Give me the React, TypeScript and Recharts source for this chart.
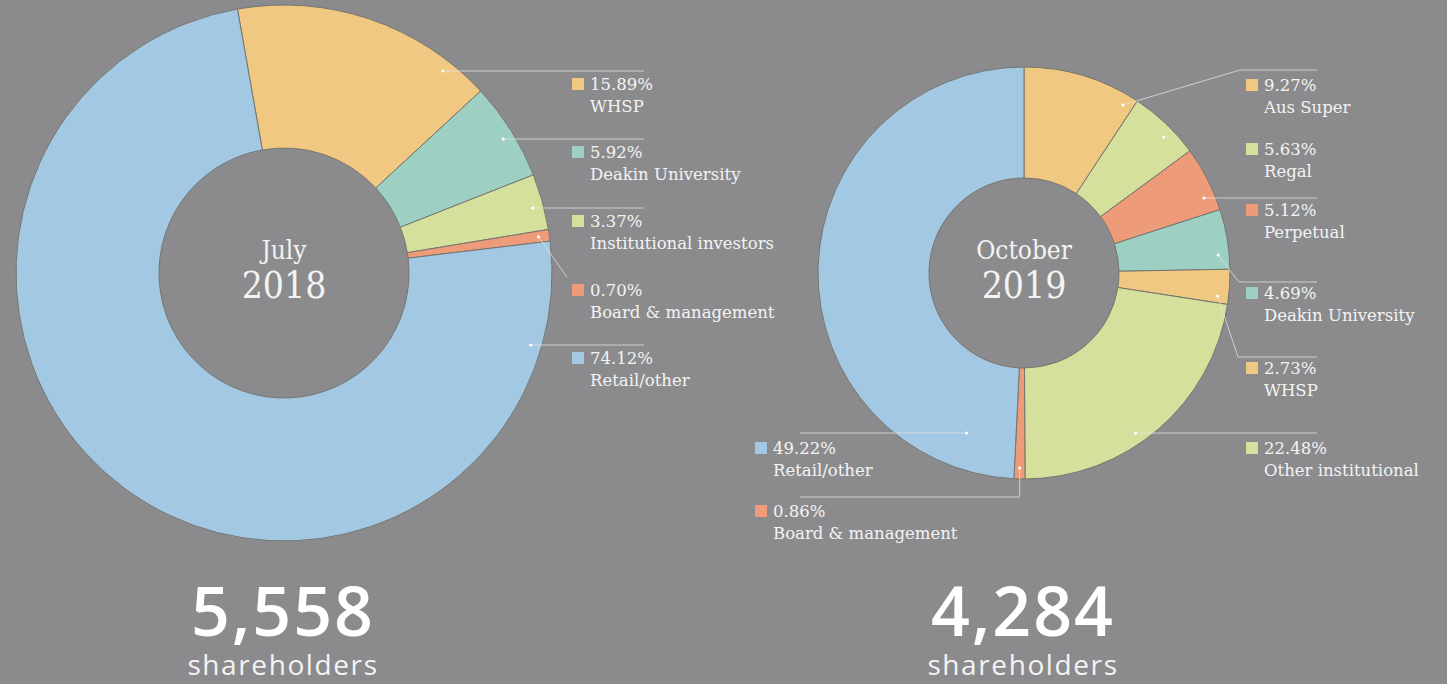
import { PieChart, Pie, Cell } from "recharts";

const julyNames = ["WHSP", "Deakin University", "Institutional investors", "Board & management", "Retail/other"];
const julyShares = [15.89, 5.92, 3.37, 0.7, 74.12];

const octNames = [
  "Aus Super",
  "Regal",
  "Perpetual",
  "Deakin University",
  "WHSP",
  "Other institutional",
  "Board & management",
  "Retail/other",
];
const octShares = [9.27, 5.63, 5.12, 4.69, 2.73, 22.48, 0.86, 49.22];

const totals = ["5,558", "4,284"];
const periods = [
  ["July", "2018"],
  ["October", "2019"],
];

const BG = "#8b8b8d";
const BLUE = "#a2c8e3";
const GOLD = "#f1c881";
const TEAL = "#9ecfc3";
const LIME = "#d5e09d";
const SALMON = "#ee9b79";
const INK = "#f3f3f3";
const SERIF = "'DejaVu Serif', serif";
const SERIF_C = "'DejaVu Serif Condensed', 'DejaVu Serif', serif";
const SANS = "'Open Sans', Lato, sans-serif";

const julyColors = [GOLD, TEAL, LIME, SALMON, BLUE];
const octColors = [GOLD, LIME, SALMON, TEAL, GOLD, LIME, SALMON, BLUE];

type Pt = [number | null, number];
type LabelLayout = {
  top: number;
  sqX: number;
  dotY?: number; // omitted -> dot sits on the slice's mid angle
  inset?: number;
  path?: Pt[];
};

// annotation layout (label blocks + leader lines)
const julyLayout: LabelLayout[] = [
  { top: 78, sqX: 572, dotY: 71, path: [[644, 71]] },
  { top: 146, sqX: 572, dotY: 139, path: [[644, 139]] },
  { top: 215, sqX: 572, dotY: 208, path: [[644, 208]] },
  { top: 284, sqX: 572, path: [[567, 277]] },
  { top: 352, sqX: 572, dotY: 345, path: [[644, 345]] },
];

const octLayout: LabelLayout[] = [
  { top: 79, sqX: 1246, dotY: 105, path: [[1240, 70], [1317, 70]] },
  { top: 143, sqX: 1246, dotY: 137 },
  { top: 204, sqX: 1246, dotY: 198, path: [[1317, 198]] },
  { top: 287, sqX: 1246, dotY: 255, path: [[1239, 282], [1317, 282]] },
  { top: 362, sqX: 1246, dotY: 296, path: [[1238, 357], [1317, 357]] },
  { top: 442, sqX: 1246, dotY: 433, path: [[1317, 433]] },
  { top: 505, sqX: 755, path: [[null, 497], [800, 497]] },
  { top: 442, sqX: 755, dotY: 433, inset: 25, path: [[800, 433]] },
];

const RAD = Math.PI / 180;

function makeLabel(names: string[], shares: number[], colors: string[], layout: LabelLayout[]) {
  return (props: any) => {
    const { cx, cy, midAngle, outerRadius, index } = props;
    const l = layout[index];
    const r = outerRadius - 11 - (l.inset ?? 0);
    const side = l.sqX > cx ? 1 : -1;
    let dx: number;
    let dy: number;
    if (l.dotY !== undefined) {
      dy = l.dotY;
      dx = cx + side * Math.sqrt(Math.max(0, r * r - (l.dotY - cy) * (l.dotY - cy)));
    } else {
      dx = cx + r * Math.cos(-midAngle * RAD);
      dy = cy + r * Math.sin(-midAngle * RAD);
    }
    const pts = [[dx, dy], ...(l.path ?? []).map(([x, y]) => [x ?? dx, y])];
    const tx = l.sqX + 18;
    return (
      <g key={`lbl-${index}`}>
        {l.path && (
          <polyline
            points={pts.map((p) => p.join(",")).join(" ")}
            fill="none"
            stroke="#e4e4e4"
            strokeOpacity={0.75}
            strokeWidth={1}
          />
        )}
        <circle cx={dx} cy={dy} r={1.6} fill="#ffffff" />
        <rect x={l.sqX} y={l.top} width={12} height={12} fill={colors[index]} />
        <text x={tx} y={l.top + 12} fill={INK} fontFamily={SERIF} fontSize={16.5} fontWeight={300}>
          {shares[index].toFixed(2)}%
        </text>
        <text x={tx} y={l.top + 34} fill={INK} fontFamily={SERIF} fontSize={16.5} fontWeight={300}>
          {names[index]}
        </text>
      </g>
    );
  };
}

const julyData = julyNames.map((name, i) => ({ name, value: julyShares[i] }));
const octData = octNames.map((name, i) => ({ name, value: octShares[i] }));

const centers = [
  { cx: 284, cy: 273 },
  { cx: 1024, cy: 273 },
];

export default function App() {
  return (
    <div style={{ position: "absolute", left: 0, top: 0, width: 1447, height: 684, background: BG, overflow: "hidden" }}>
      <PieChart width={1447} height={684} margin={{ top: 0, right: 0, bottom: 0, left: 0 }}>
        <Pie
          data={julyData}
          dataKey="value"
          nameKey="name"
          cx={284}
          cy={273}
          innerRadius={125}
          outerRadius={268}
          startAngle={100}
          endAngle={-260}
          stroke="#76766f"
          strokeWidth={1}
          label={makeLabel(julyNames, julyShares, julyColors, julyLayout)}
          labelLine={false}
          isAnimationActive={false}
        >
          {julyData.map((d, i) => (
            <Cell key={d.name} fill={julyColors[i]} />
          ))}
        </Pie>
        <Pie
          data={octData}
          dataKey="value"
          nameKey="name"
          cx={1024}
          cy={273}
          innerRadius={95}
          outerRadius={206}
          startAngle={90}
          endAngle={-270}
          stroke="#76766f"
          strokeWidth={1}
          label={makeLabel(octNames, octShares, octColors, octLayout)}
          labelLine={false}
          isAnimationActive={false}
        >
          {octData.map((d, i) => (
            <Cell key={d.name + i} fill={octColors[i]} />
          ))}
        </Pie>
      </PieChart>
      <svg width={1447} height={684} style={{ position: "absolute", left: 0, top: 0, pointerEvents: "none" }}>
        {centers.map((c, i) => (
          <g key={i}>
            <text x={c.cx} y={259} textAnchor="middle" fill={INK} fontFamily={SERIF_C} fontSize={26} fontWeight={300}>
              {periods[i][0]}
            </text>
            <text x={c.cx} y={298} textAnchor="middle" fill={INK} fontFamily={SERIF_C} fontSize={37} fontWeight={300}>
              {periods[i][1]}
            </text>
            <text
              x={c.cx - 1}
              y={636}
              textAnchor="middle"
              fill="#ffffff"
              fontFamily={SANS}
              fontSize={68}
              fontWeight={600}
              letterSpacing={2}
            >
              {totals[i]}
            </text>
            <text
              x={c.cx - 1}
              y={675}
              textAnchor="middle"
              fill={INK}
              fontFamily={SANS}
              fontSize={28}
              fontWeight={400}
              letterSpacing={1.6}
            >
              shareholders
            </text>
          </g>
        ))}
      </svg>
    </div>
  );
}
